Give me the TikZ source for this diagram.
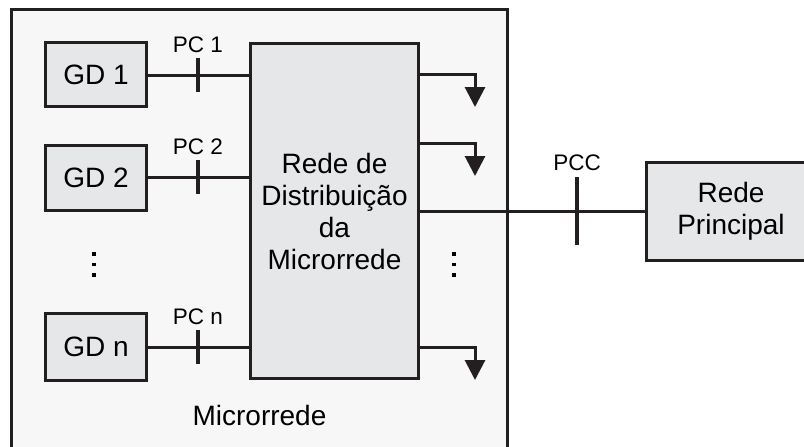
\documentclass[tikz,border=0pt]{standalone}
\usepackage{fontspec}
\setmainfont{Liberation Sans}
\usepackage{xcolor}
\usepackage{tikz}
\usetikzlibrary{positioning, arrows.meta}
\definecolor{linecol}{RGB}{35,31,32}
\definecolor{boxfill}{RGB}{230,231,232}
\definecolor{areafill}{RGB}{247,247,247}
\newcommand{\squaredots}{\vbox{\offinterlineskip\hbox{\rule{3.2pt}{3.2pt}}\vskip7.3pt
  \hbox{\rule{3.2pt}{3.2pt}}\vskip7.3pt\hbox{\rule{3.2pt}{3.2pt}}}}

\begin{document}
\begin{tikzpicture}[x=1pt, y=-1pt, every node/.style={inner sep=0pt},
  area/.style={draw=linecol, line width=3pt, fill=areafill},
  block/.style={draw=linecol, line width=3pt, fill=boxfill, align=center,
    font=\fontsize{28}{32}\selectfont},
  lbl/.style={font=\fontsize{22.5}{26}\selectfont},
  txt/.style={font=\fontsize{28}{32}\selectfont},
  dots/.style={text=black},
  wire/.style={linecol, line width=3pt},
  tick/.style={linecol, line width=3.5pt},
  feeder/.style={linecol, line width=3pt, -{Triangle[length=20pt, width=20pt]}}]
\useasboundingbox (0,0) rectangle (804,447);
\clip (0,0) rectangle (804,447);

% microrrede
\node[area, minimum width=496pt, minimum height=470pt] (mr) at (259.75,244.5) {};
\node[txt] (mrlab) at (259.5,415) {Microrrede};

% blocks
\node[block, minimum width=168pt, minimum height=335pt] (rede) at (334.5,211)
  {Rede de\\Distribuição\\da\\Microrrede};
\node[block, minimum width=101pt, minimum height=64pt] (gd1) at (96,74.5) {GD 1};
\node[block, minimum width=101pt, minimum height=65pt] (gd2) at (96,177.5) {GD 2};
\node[block, minimum width=101pt, minimum height=67pt] (gdn) at (96,347) {GD n};
\node[block, minimum width=169pt, minimum height=98pt] (rp) at (731,211.5)
  {Rede\\Principal};

\node[dots] (vd1) at (94,264.5) {\squaredots};
\node[dots] (vd2) at (454,264.5) {\squaredots};

% pontos de conexao
\coordinate (t1) at (198,75);
\coordinate (t2) at (198,177);
\coordinate (tn) at (198,347);
\coordinate (pcc) at (577,211);

\draw[wire] (gd1.east |- t1) -- (t1 -| rede.west);
\draw[wire] (gd2.east |- t2) -- (t2 -| rede.west);
\draw[wire] (gdn.east |- tn) -- (tn -| rede.west);
\draw[wire] (rede.east |- pcc) -- (pcc -| rp.west);

\foreach \t/\l in {t1/PC 1, t2/PC 2, tn/PC n}{
  \draw[tick] ([yshift=17]\t) -- ([yshift=-17]\t);
  \node[lbl] (\t lab) at ([yshift=30]\t) {\l};
}
\draw[tick] ([yshift=34]pcc) -- ([yshift=-34]pcc);
\node[lbl] (pcclab) at ([yshift=48]pcc) {PCC};

% cargas
\coordinate (l1) at (475,107);
\coordinate (l2) at (475,176);
\coordinate (l3) at (475,380);
\draw[feeder] ([yshift=33]l1 -| rede.east) -| (l1);
\draw[feeder] ([yshift=33]l2 -| rede.east) -| (l2);
\draw[feeder] ([yshift=33]l3 -| rede.east) -| (l3);
\end{tikzpicture}
\end{document}
